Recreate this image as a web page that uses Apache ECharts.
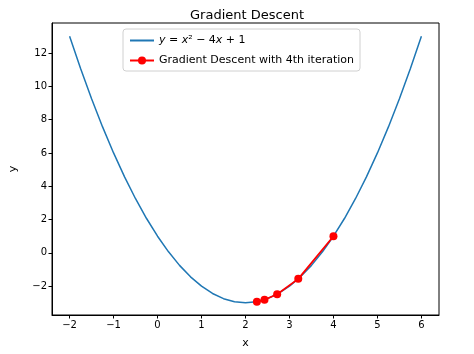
<!DOCTYPE html>
<html>
<head>
<meta charset="utf-8">
<script src="https://cdn.jsdelivr.net/npm/echarts@6/dist/echarts.min.js"></script>
<style>
  html, body { margin: 0; padding: 0; background: #fff; }
  #chart { width: 474px; height: 354px; }
</style>
</head>
<body>
<div id="chart"></div>
<script>
// curve y = x^2 - 4x + 1, sampled every 0.25
const curveX = [-2, -1.75, -1.5, -1.25, -1, -0.75, -0.5, -0.25, 0, 0.25, 0.5, 0.75, 1, 1.25, 1.5, 1.75,
  2, 2.25, 2.5, 2.75, 3, 3.25, 3.5, 3.75, 4, 4.25, 4.5, 4.75, 5, 5.25, 5.5, 5.75, 6];
const curveY = [13, 11.0625, 9.25, 7.5625, 6, 4.5625, 3.25, 2.0625, 1, 0.0625, -0.75, -1.4375, -2, -2.4375, -2.75, -2.9375,
  -3, -2.9375, -2.75, -2.4375, -2, -1.4375, -0.75, 0.0625, 1, 2.0625, 3.25, 4.5625, 6, 7.5625, 9.25, 11.0625, 13];

// gradient descent steps
const stepX = [4, 3.2, 2.72, 2.432, 2.259];
const stepY = [1, -1.56, -2.482, -2.813, -2.933];

const xTicks = [-2, -1, 0, 1, 2, 3, 4, 5, 6];
const yTicks = [-2, 0, 2, 4, 6, 8, 10, 12];

const font = "DejaVu Sans";
const fmt = v => (v < 0 ? "\u2212" + Math.abs(v) : String(v));

const chart = echarts.init(document.getElementById("chart"));

const options = {
  animation: false,
  title: {
    text: "Gradient Descent",
    left: 242,
    top: 4,
    textAlign: "center",
    textStyle: { fontFamily: font, fontSize: 13, fontWeight: "normal", color: "#000" },
  },
  legend: {
    orient: "vertical",
    left: 123,
    top: 29,
    padding: [6, 6, 5, 6],
    itemWidth: 24,
    itemHeight: 10,
    itemGap: 9,
    backgroundColor: "#fff",
    borderColor: "#d0d0d0",
    borderWidth: 1,
    borderRadius: 3,
    formatter: name => (name === "curve" ? "{i|y} = {i|x}\u00b2 \u2212 4{i|x} + 1" : name),
    textStyle: {
      fontFamily: font,
      fontSize: 11,
      color: "#000",
      rich: { i: { fontFamily: font, fontSize: 11, fontStyle: "italic", color: "#000" } },
    },
    data: [
      { name: "curve", itemStyle: { opacity: 0 } },
      "Gradient Descent with 4th iteration",
    ],
  },
  grid: {
    left: 44,
    right: 35,
    top: 23,
    bottom: 38,
    show: true,
    borderColor: "#000",
    borderWidth: 1,
  },
  xAxis: {
    type: "value",
    min: -2.4,
    max: 6.4,
    name: "x",
    nameLocation: "middle",
    nameGap: 23,
    nameTextStyle: { fontFamily: font, fontSize: 11, color: "#000" },
    splitLine: { show: false },
    axisLine: { show: true, onZero: false, lineStyle: { color: "#000" } },
    axisTick: { show: true, length: 3.5, lineStyle: { color: "#000" }, customValues: xTicks },
    axisLabel: { fontFamily: font, fontSize: 10, color: "#000", margin: 5, customValues: xTicks, formatter: fmt },
  },
  yAxis: {
    type: "value",
    min: -3.73,
    max: 13.8,
    name: "y",
    nameLocation: "middle",
    nameGap: 33,
    nameTextStyle: { fontFamily: font, fontSize: 11, color: "#000" },
    splitLine: { show: false },
    axisLine: { show: true, onZero: false, lineStyle: { color: "#000" } },
    axisTick: { show: true, length: 3.5, lineStyle: { color: "#000" }, customValues: yTicks },
    axisLabel: { fontFamily: font, fontSize: 10, color: "#000", margin: 5, customValues: yTicks, formatter: fmt },
  },
  series: [
    {
      name: "curve",
      type: "line",
      data: curveX.map((x, i) => [x, curveY[i]]),
      showSymbol: false,
      symbol: "none",
      color: "#1f77b4",
      lineStyle: { color: "#1f77b4", width: 1.5 },
    },
    {
      name: "Gradient Descent with 4th iteration",
      type: "line",
      data: stepX.map((x, i) => [x, stepY[i]]),
      symbol: "circle",
      symbolSize: 8,
      color: "#ff0000",
      itemStyle: { color: "#ff0000" },
      lineStyle: { color: "#ff0000", width: 1.8 },
      z: 3,
    },
  ],
};

chart.setOption(options);
</script>
</body>
</html>
